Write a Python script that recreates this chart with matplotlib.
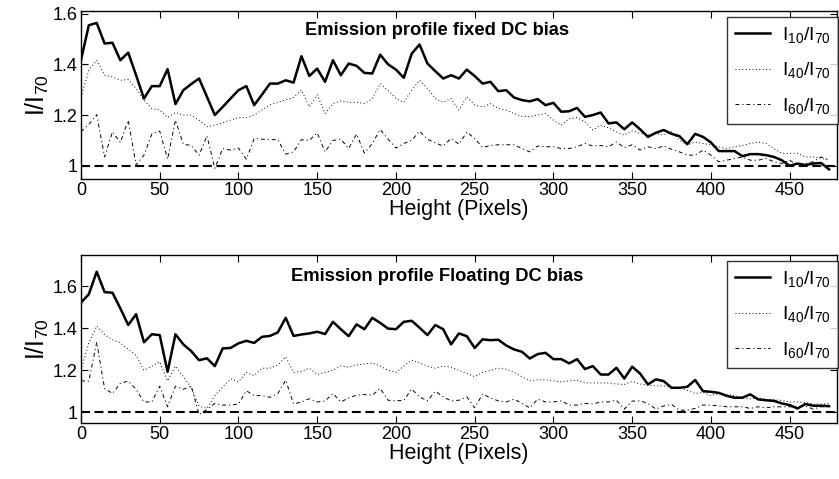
import numpy as np
import matplotlib
matplotlib.use("Agg")
import matplotlib.pyplot as plt
from matplotlib.ticker import FuncFormatter

plt.rcParams['font.family'] = ['Liberation Sans', 'DejaVu Sans']
plt.rcParams['mathtext.default'] = 'regular'

# height positions (pixels), one sample every 5 px
height = np.arange(0, 480, 5)

# ---- fixed DC bias ----
fixed_10 = [1.416, 1.554, 1.563, 1.482, 1.485, 1.416, 1.446, 1.357, 1.265, 1.314,
            1.314, 1.381, 1.243, 1.298, 1.322, 1.344, 1.272, 1.200, 1.232, 1.265,
            1.298, 1.314, 1.239, 1.281, 1.324, 1.324, 1.337, 1.328, 1.432, 1.354,
            1.383, 1.331, 1.416, 1.357, 1.403, 1.394, 1.366, 1.364, 1.438, 1.400,
            1.379, 1.347, 1.442, 1.478, 1.403, 1.373, 1.344, 1.357, 1.344, 1.379,
            1.354, 1.324, 1.331, 1.294, 1.298, 1.269, 1.259, 1.254, 1.263, 1.239,
            1.248, 1.213, 1.215, 1.228, 1.193, 1.200, 1.210, 1.167, 1.171, 1.144,
            1.171, 1.144, 1.114, 1.130, 1.141, 1.126, 1.117, 1.085, 1.126, 1.114,
            1.092, 1.058, 1.058, 1.058, 1.038, 1.046, 1.046, 1.042, 1.035, 1.022,
            1.000, 1.009, 1.003, 1.009, 1.011, 0.986]
fixed_40 = [1.270, 1.377, 1.416, 1.357, 1.350, 1.337, 1.340, 1.305, 1.259, 1.226,
            1.220, 1.190, 1.210, 1.200, 1.200, 1.180, 1.154, 1.160, 1.170, 1.180,
            1.190, 1.190, 1.200, 1.220, 1.240, 1.250, 1.260, 1.270, 1.298, 1.232,
            1.280, 1.206, 1.245, 1.256, 1.250, 1.250, 1.245, 1.265, 1.324, 1.298,
            1.265, 1.250, 1.298, 1.337, 1.305, 1.265, 1.250, 1.265, 1.219, 1.272,
            1.240, 1.232, 1.245, 1.226, 1.219, 1.206, 1.195, 1.193, 1.200, 1.206,
            1.180, 1.160, 1.186, 1.190, 1.173, 1.141, 1.160, 1.150, 1.134, 1.121,
            1.138, 1.128, 1.121, 1.128, 1.121, 1.134, 1.101, 1.082, 1.094, 1.088,
            1.082, 1.075, 1.068, 1.075, 1.080, 1.088, 1.094, 1.088, 1.068, 1.049,
            1.049, 1.049, 1.035, 1.035, 1.030, 1.022]
fixed_60 = [1.134, 1.163, 1.202, 1.035, 1.134, 1.092, 1.180, 1.003, 1.042, 1.125,
            1.137, 1.026, 1.180, 1.085, 1.080, 1.042, 1.118, 0.990, 1.068, 1.062,
            1.070, 1.026, 1.108, 1.105, 1.103, 1.103, 1.046, 1.055, 1.103, 1.100,
            1.130, 1.055, 1.100, 1.105, 1.068, 1.125, 1.050, 1.088, 1.143, 1.105,
            1.070, 1.088, 1.100, 1.137, 1.105, 1.090, 1.078, 1.108, 1.085, 1.133,
            1.108, 1.072, 1.080, 1.083, 1.083, 1.083, 1.068, 1.055, 1.078, 1.075,
            1.075, 1.068, 1.068, 1.075, 1.088, 1.078, 1.080, 1.075, 1.094, 1.072,
            1.083, 1.062, 1.075, 1.068, 1.078, 1.065, 1.055, 1.042, 1.042, 1.062,
            1.042, 1.016, 1.022, 1.029, 1.035, 1.022, 1.022, 1.029, 1.016, 1.009,
            1.022, 1.003, 1.009, 1.016, 1.035, 1.022]

# ---- floating DC bias ----
float_10 = [1.521, 1.561, 1.668, 1.571, 1.568, 1.494, 1.415, 1.466, 1.333, 1.371,
            1.367, 1.193, 1.371, 1.323, 1.291, 1.248, 1.257, 1.220, 1.304, 1.306,
            1.328, 1.340, 1.330, 1.359, 1.363, 1.380, 1.449, 1.363, 1.370, 1.375,
            1.383, 1.372, 1.430, 1.395, 1.362, 1.418, 1.395, 1.449, 1.425, 1.398,
            1.395, 1.430, 1.435, 1.402, 1.367, 1.415, 1.395, 1.323, 1.375, 1.362,
            1.306, 1.347, 1.343, 1.345, 1.318, 1.299, 1.288, 1.256, 1.277, 1.283,
            1.253, 1.253, 1.233, 1.253, 1.206, 1.220, 1.180, 1.180, 1.212, 1.161,
            1.217, 1.185, 1.133, 1.157, 1.149, 1.117, 1.117, 1.122, 1.154, 1.101,
            1.098, 1.093, 1.079, 1.070, 1.070, 1.086, 1.062, 1.058, 1.055, 1.043,
            1.035, 1.019, 1.040, 1.032, 1.032, 1.030]
float_40 = [1.200, 1.330, 1.410, 1.370, 1.345, 1.330, 1.300, 1.270, 1.200, 1.220,
            1.240, 1.150, 1.220, 1.170, 1.120, 1.030, 1.020, 1.080, 1.120, 1.160,
            1.145, 1.190, 1.175, 1.210, 1.210, 1.225, 1.264, 1.190, 1.195, 1.210,
            1.180, 1.190, 1.200, 1.220, 1.215, 1.225, 1.230, 1.235, 1.220, 1.200,
            1.190, 1.220, 1.248, 1.235, 1.220, 1.210, 1.220, 1.215, 1.200, 1.185,
            1.170, 1.190, 1.200, 1.210, 1.205, 1.190, 1.170, 1.150, 1.155, 1.155,
            1.150, 1.145, 1.150, 1.153, 1.140, 1.140, 1.140, 1.140, 1.135, 1.133,
            1.147, 1.135, 1.130, 1.126, 1.126, 1.120, 1.120, 1.105, 1.090, 1.095,
            1.080, 1.090, 1.085, 1.080, 1.070, 1.065, 1.070, 1.062, 1.060, 1.057,
            1.050, 1.050, 1.047, 1.040, 1.040, 1.042]
float_60 = [1.150, 1.149, 1.333, 1.114, 1.090, 1.138, 1.149, 1.110, 1.050, 1.050,
            1.125, 1.027, 1.125, 1.110, 1.125, 0.990, 1.014, 1.043, 1.035, 1.035,
            1.040, 1.103, 1.080, 1.080, 1.072, 1.090, 1.153, 1.040, 1.050, 1.065,
            1.050, 1.054, 1.090, 1.050, 1.069, 1.082, 1.085, 1.082, 1.114, 1.058,
            1.055, 1.058, 1.111, 1.074, 1.055, 1.101, 1.074, 1.055, 1.058, 1.074,
            1.022, 1.087, 1.069, 1.055, 1.050, 1.063, 1.043, 1.022, 1.063, 1.050,
            1.050, 1.055, 1.035, 1.035, 1.043, 1.040, 1.050, 1.050, 1.058, 1.016,
            1.054, 1.055, 1.043, 1.016, 1.031, 1.038, 1.011, 1.011, 1.019, 1.035,
            1.035, 1.031, 1.027, 1.027, 1.027, 1.019, 1.027, 1.022, 1.027, 1.027,
            1.027, 1.027, 1.031, 1.016, 1.027, 1.027]

labels = ['I$_{10}$/I$_{70}$', 'I$_{40}$/I$_{70}$', 'I$_{60}$/I$_{70}$']

panels = [
    ("Emission profile fixed DC bias", fixed_10, fixed_40, fixed_60,
     [0.0965, 0.6263, 0.901, 0.3507], (0.948, 1.61), 1.534),
    ("Emission profile Floating DC bias", float_10, float_40, float_60,
     [0.0965, 0.1169, 0.901, 0.3507], (0.95, 1.747), 1.643),
]

fig = plt.figure(figsize=(8.39, 4.79), dpi=100)

for title, s10, s40, s60, pos, ylim, ty in panels:
    ax = fig.add_axes(pos)
    ax.plot(height, s10, '-', color='black', lw=1.8, label=labels[0])
    ax.plot(height, s40, color='black', lw=0.7, ls=(0, (1, 2.5)), label=labels[1])
    ax.plot(height, s60, color='black', lw=0.7, ls=(0, (4, 3, 1.2, 3)), label=labels[2])
    ax.axhline(1, color='black', ls=(0, (4.3, 2.2)), lw=1.5)

    ax.set_xlim(0, 480)
    ax.set_ylim(*ylim)
    ax.set_xticks(np.arange(0, 451, 50))
    ax.set_yticks([1, 1.2, 1.4, 1.6])
    ax.yaxis.set_major_formatter(FuncFormatter(lambda v, p: '%g' % v))
    ax.tick_params(direction='in', top=True, right=True, labelsize=13,
                   length=5, width=0.8, pad=2.5)
    for s in ax.spines.values():
        s.set_linewidth(1.0)

    ax.set_xlabel('Height (Pixels)', fontsize=15.5, labelpad=0)
    ax.set_ylabel('I/I$_{70}$', fontsize=18, labelpad=1)
    ax.text(226, ty, title, fontsize=13.2, fontweight='bold',
            ha='center', va='center')

    leg = ax.legend(loc='upper right', bbox_to_anchor=(1.002, 0.964),
                    fontsize=14, frameon=True, fancybox=False,
                    edgecolor='black', handlelength=1.8, borderpad=0.4,
                    labelspacing=0.8, handletextpad=0.6, borderaxespad=0)
    leg.get_frame().set_linewidth(1.0)

fig.savefig('out.png', dpi=100)
